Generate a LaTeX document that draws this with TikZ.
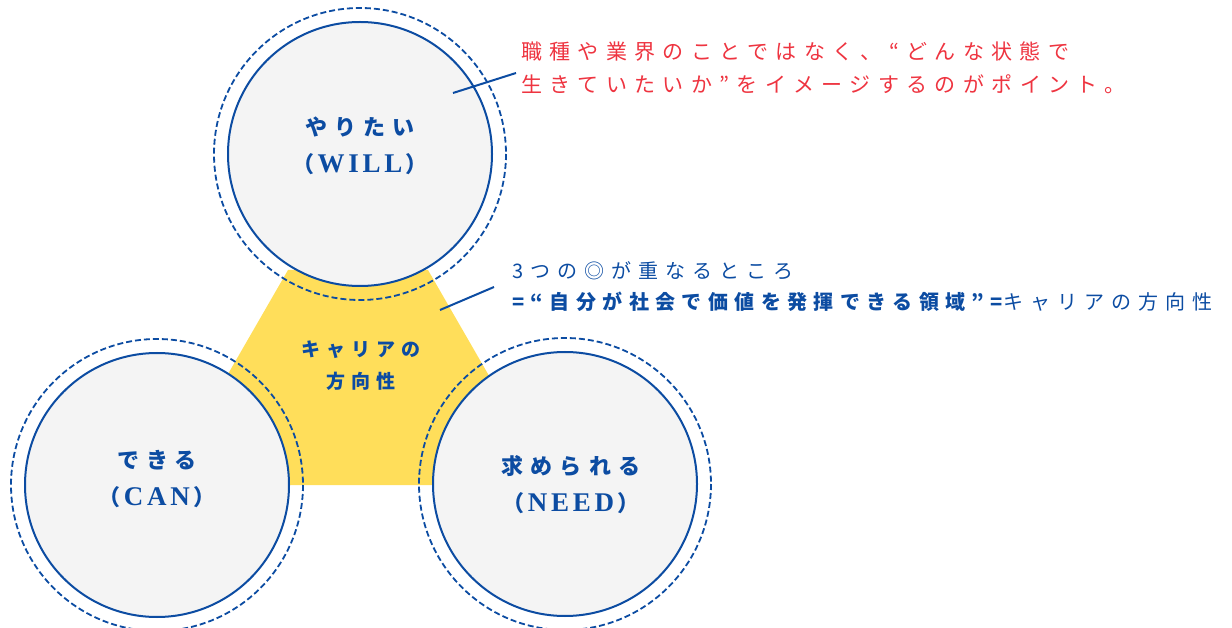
\documentclass[tikz,border=0pt]{standalone}
\usepackage{fontspec}
\setmainfont{Liberation Serif}
\newfontfamily\jpfont[LetterSpace=32]{Noto Sans CJK JP}
\newfontfamily\notefont[LetterSpace=35]{Noto Sans CJK JP}
\newfontfamily\latfont[LetterSpace=14]{Liberation Serif}
\usetikzlibrary{calc}
\definecolor{navy}{RGB}{12,76,162}
\definecolor{discgray}{RGB}{244,244,244}
\definecolor{careeryellow}{RGB}{255,222,90}
\definecolor{notered}{RGB}{238,52,64}
\newcommand{\latin}[1]{\hspace{3pt}{\latfont\fontsize{27}{37}\selectfont #1}\hspace{3pt}}
\tikzset{disc/.style={draw=navy,line width=2pt,fill=discgray,circle,minimum size=264pt,inner sep=0pt}}
\tikzset{ring/.style={draw=navy,line width=1.8pt,dash pattern=on 6pt off 3pt}}
\tikzset{careerfill/.style={fill=careeryellow}}
\tikzset{lbl/.style={text=navy,align=center,inner sep=0pt,font=\jpfont\bfseries\fontsize{22}{37}\selectfont}}
\tikzset{pointer/.style={draw=navy,line width=2pt}}
\tikzset{rednote/.style={text=notered,align=left,inner sep=0pt,anchor=west,font=\notefont\fontsize{21}{33}\selectfont}}
\tikzset{bluenote/.style={text=navy,align=left,inner sep=0pt,anchor=west,font=\jpfont\fontsize{20}{31}\selectfont}}
\begin{document}
\begin{tikzpicture}[x=1pt,y=-1pt]
    \useasboundingbox (0,0) rectangle (1232,628);

    % yellow area behind the three circles
    \fill[careerfill] (288,270) -- (428,270) -- (552,485) -- (164,485) -- cycle;

    \foreach \n/\p in {will/{(360,154)},can/{(157,485)},need/{(565,484)}}{
      \draw[ring] \p circle[radius=146];
      \node[disc] (\n) at \p {};
    }

    \node[lbl] (willtext) at ($(will)+(0,-8)$) {やりたい\\（\latin{WILL}）};
    \node[lbl] (cantext) at ($(can)+(0,-6)$) {できる\\（\latin{CAN}）};
    \node[lbl] (needtext) at ($(need)+(6,1)$) {求められる\\（\latin{NEED}）};
    \node[lbl,font=\jpfont\bfseries\fontsize{19}{32}\selectfont] (careertext) at (361,366) {キャリアの\\方向性};

    \node[rednote] (note) at (521,68) {職種や業界のことではなく、“どんな状態で\\生きていたいか”をイメージするのがポイント。};
    \node[bluenote] (overlap) at (512,287) {{\notefont 3つの◎が重なるところ}\\{\bfseries =“自分が社会で価値を発揮できる領域”=}{\notefont キャリアの方向性}};

    \coordinate (willpt) at (453,93);
    \coordinate (careerpt) at (440,310);
    \draw[pointer] (willpt) -- ([shift={(-5,5)}]note.west);
    \draw[pointer] (careerpt) -- ([xshift=-18pt]overlap.west);

\end{tikzpicture}
\end{document}
